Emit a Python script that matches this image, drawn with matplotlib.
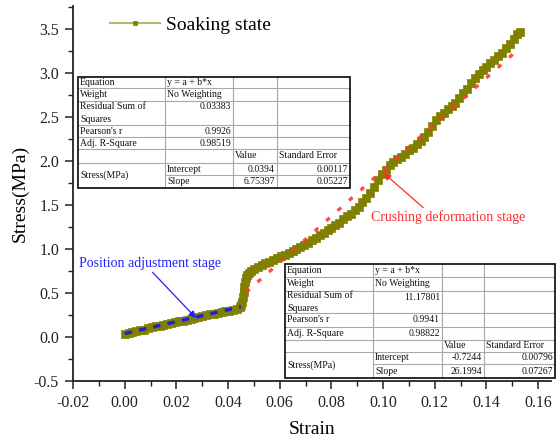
import matplotlib
matplotlib.use("Agg")
import matplotlib.pyplot as plt
import matplotlib.transforms as mtransforms
from matplotlib.lines import Line2D
from matplotlib.ticker import MultipleLocator, FormatStrFormatter

plt.rcParams['font.family'] = ['Liberation Serif', 'DejaVu Serif']
plt.rcParams['axes.unicode_minus'] = False

# Stress-strain curve of the soaked specimen
strain = [0.0000, 0.0015, 0.0030, 0.0045, 0.0060, 0.0075, 0.0090, 0.0105, 0.0120, 0.0135,
          0.0150, 0.0165, 0.0180, 0.0195, 0.0210, 0.0225, 0.0240, 0.0255, 0.0270, 0.0285,
          0.0300, 0.0315, 0.0330, 0.0345, 0.0360, 0.0375, 0.0390, 0.0405, 0.0420, 0.0435,
          0.0445, 0.0450, 0.0454, 0.0457, 0.0460, 0.0463, 0.0466, 0.0470, 0.0475, 0.0480,
          0.0490, 0.0500, 0.0515, 0.0530, 0.0545, 0.0560, 0.0575, 0.0590, 0.0605, 0.0620,
          0.0635, 0.0650, 0.0665, 0.0680, 0.0695, 0.0710, 0.0725, 0.0740, 0.0755, 0.0770,
          0.0785, 0.0800, 0.0815, 0.0830, 0.0845, 0.0860, 0.0875, 0.0890, 0.0905, 0.0920,
          0.0935, 0.0950, 0.0965, 0.0980, 0.0995, 0.1010, 0.1025, 0.1040, 0.1055, 0.1070,
          0.1085, 0.1100, 0.1115, 0.1130, 0.1145, 0.1160, 0.1175, 0.1190, 0.1205, 0.1220,
          0.1235, 0.1250, 0.1265, 0.1280, 0.1295, 0.1310, 0.1325, 0.1340, 0.1355, 0.1370,
          0.1385, 0.1400, 0.1415, 0.1430, 0.1445, 0.1460, 0.1475, 0.1490, 0.1505, 0.1520,
          0.1530]
stress = [0.030, 0.045, 0.058, 0.068, 0.077, 0.085, 0.097, 0.108, 0.120, 0.130,
          0.140, 0.148, 0.157, 0.166, 0.176, 0.184, 0.192, 0.202, 0.212, 0.222,
          0.233, 0.245, 0.256, 0.264, 0.272, 0.281, 0.290, 0.300, 0.310, 0.322,
          0.335, 0.360, 0.400, 0.450, 0.510, 0.570, 0.620, 0.670, 0.700, 0.730,
          0.755, 0.775, 0.795, 0.815, 0.835, 0.855, 0.875, 0.895, 0.915, 0.935,
          0.955, 0.975, 1.000, 1.020, 1.045, 1.070, 1.100, 1.130, 1.155, 1.180,
          1.210, 1.240, 1.270, 1.300, 1.335, 1.370, 1.400, 1.440, 1.480, 1.530,
          1.580, 1.630, 1.700, 1.780, 1.850, 1.900, 1.950, 1.990, 2.020, 2.050,
          2.080, 2.120, 2.150, 2.190, 2.230, 2.270, 2.330, 2.400, 2.460, 2.510,
          2.550, 2.590, 2.620, 2.660, 2.710, 2.770, 2.820, 2.880, 2.940, 2.990,
          3.030, 3.070, 3.110, 3.150, 3.190, 3.230, 3.280, 3.330, 3.390, 3.440,
          3.470]

# Linear fits of the two stages
fit1_intercept, fit1_slope = 0.0394, 6.75397
fit1_range = [0.0, 0.045]
fit2_intercept, fit2_slope = -0.7244, 26.1994
fit2_range = [0.047, 0.152]

table1 = [
    ["Equation", "y = a + b*x", "", ""],
    ["Weight", "No Weighting", "", ""],
    ["Residual Sum of\nSquares", "0.03383", "", ""],
    ["Pearson's r", "0.9926", "", ""],
    ["Adj. R-Square", "0.98519", "", ""],
    ["", "", "Value", "Standard Error"],
    ["Stress(MPa)", "Intercept", "0.0394", "0.00117"],
    ["", "Slope", "6.75397", "0.05227"],
]
table2 = [
    ["Equation", "y = a + b*x", "", ""],
    ["Weight", "No Weighting", "", ""],
    ["Residual Sum of\nSquares", "11.17801", "", ""],
    ["Pearson's r", "0.9941", "", ""],
    ["Adj. R-Square", "0.98822", "", ""],
    ["", "", "Value", "Standard Error"],
    ["Stress(MPa)", "Intercept", "-0.7244", "0.00796"],
    ["", "Slope", "26.1994", "0.07267"],
]

W, H = 558, 441
fig = plt.figure(figsize=(W / 100, H / 100), dpi=100)
ax = fig.add_axes([73 / W, 1 - 381 / H, (551 - 73) / W, (381 - 6) / H])

olive = '#808000'
ax.plot(strain, stress, color='#b8b86a', lw=1.5, marker='s', ms=5.8,
        mfc=olive, mec=olive, mew=0.5, zorder=3, label='Soaking state')

xs1 = fit1_range
ax.plot(xs1, [fit1_intercept + fit1_slope * x for x in xs1], color='#1f1fe0',
        lw=2.4, ls=(0, (2.2, 2.2)), zorder=4)
xs2 = fit2_range
ax.plot(xs2, [fit2_intercept + fit2_slope * x for x in xs2], color='#ff3838',
        lw=2.4, ls=(0, (1.4, 3.2)), alpha=0.9, zorder=4)

ax.set_xlim(-0.02, 0.165)
ax.set_ylim(-0.5, 3.76)
ax.xaxis.set_major_locator(MultipleLocator(0.02))
ax.xaxis.set_minor_locator(MultipleLocator(0.01))
ax.yaxis.set_major_locator(MultipleLocator(0.5))
ax.yaxis.set_minor_locator(MultipleLocator(0.25))
ax.xaxis.set_major_formatter(FormatStrFormatter('%.2f'))
ax.yaxis.set_major_formatter(FormatStrFormatter('%.1f'))
for s in ['top', 'right']:
    ax.spines[s].set_visible(False)
for s in ['left', 'bottom']:
    ax.spines[s].set_linewidth(1.3)
    ax.spines[s].set_color('#222222')
ax.tick_params(which='major', direction='out', length=6, width=1.1,
               labelsize=11.5, colors='#222222', pad=4)
ax.tick_params(which='minor', direction='out', length=3.5, width=1.0, colors='#222222')
ax.set_xlabel('Strain', fontsize=14, labelpad=7)
ax.set_ylabel('Stress(MPa)', fontsize=14, labelpad=4)

ax.legend(loc='upper left', bbox_to_anchor=(0.04, 1.02), frameon=False,
          fontsize=14, handlelength=2.6, handletextpad=0.3, markerscale=0.6)

ax.annotate('Position adjustment stage', xy=(0.0276, 0.216), xytext=(-0.0177, 0.84),
            color='#2020ff', fontsize=10, va='center', ha='left',
            arrowprops=dict(arrowstyle='-|>', color='#2020ff', lw=0.9,
                            shrinkA=0, shrinkB=0, mutation_scale=10,
                            relpos=(0.5, 0.0)),
            zorder=6)
ax.annotate('Crushing deformation stage', xy=(0.1003, 1.86), xytext=(0.0953, 1.36),
            color='#ff2a2a', fontsize=10, va='center', ha='left',
            arrowprops=dict(arrowstyle='-|>', color='#ff2a2a', lw=0.9,
                            shrinkA=0, shrinkB=0, mutation_scale=10,
                            relpos=(0.36, 1.0)),
            zorder=6)

# pixel transform (origin top-left) for the statistics tables
pix = mtransforms.Affine2D().scale(1 / W, -1 / H).translate(0, 1) + fig.transFigure


def draw_table(cells, cols, rows):
    fs = 7.0
    x0, x1 = cols[0], cols[-1]
    y0, y1 = rows[0], rows[-1]
    fig.patches.append(plt.Rectangle((x0, y0), x1 - x0, y1 - y0, transform=pix,
                                     facecolor='white', edgecolor='none', zorder=7))
    grid = dict(color='#a8a8a8', lw=0.8, transform=pix, zorder=8)
    # horizontal separators
    for i, y in enumerate(rows[1:-1], start=1):
        if i == 7:
            fig.lines.append(Line2D([cols[1], x1], [y, y], **grid))
        else:
            fig.lines.append(Line2D([x0, x1], [y, y], **grid))
    for x in cols[1:-1]:
        fig.lines.append(Line2D([x, x], [y0, y1], **grid))
    fig.patches.append(plt.Rectangle((x0, y0), x1 - x0, y1 - y0, transform=pix,
                                     facecolor='none', edgecolor='#1a1a1a', lw=1.3,
                                     zorder=9))
    for r, row in enumerate(cells):
        for c, txt in enumerate(row):
            if not txt:
                continue
            top, bot = rows[r], rows[r + 1]
            if r == 6 and c == 0:
                bot = rows[8]
            yc = (top + bot) / 2
            if r == 2 and c == 1:
                yc = top + (rows[1] - rows[0]) / 2
            numeric = txt[0].isdigit() or txt[0] == '-'
            if numeric:
                x, ha = cols[c + 1] - 2, 'right'
            else:
                x, ha = cols[c] + 2, 'left'
            fig.text(x, yc, txt, transform=pix, fontsize=fs, ha=ha, va='center',
                     linespacing=1.45, zorder=10, color='#111111')


draw_table(table1, [78, 165, 233, 277, 350], [77, 88, 101, 125, 137, 149, 163, 175, 188])
draw_table(table2, [285, 373, 442, 484, 555], [264, 277, 291, 313, 327, 340, 352, 364, 378])

fig.savefig('out.png', dpi=100)
